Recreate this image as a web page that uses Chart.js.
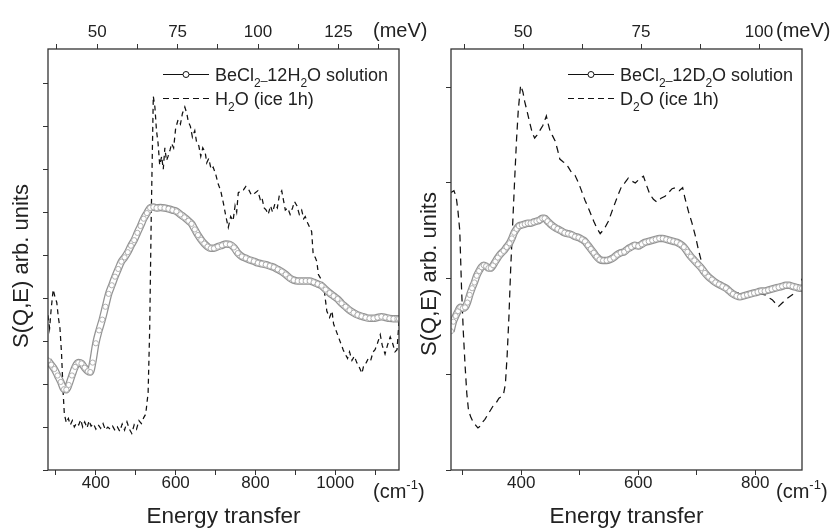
<!DOCTYPE html>
<html>
<head>
<meta charset="utf-8">
<title>BeCl2 solution vs ice 1h</title>
<script src="https://cdn.jsdelivr.net/npm/chart.js@4.4.1/dist/chart.umd.min.js"></script>
<style>
  body { margin: 0; background: #fff; }
  #wrap { position: relative; width: 837px; height: 528px; overflow: hidden; }
  canvas { position: absolute; top: 0; }
</style>
</head>
<body>
<div id="wrap">
  <canvas id="left" width="440" height="528" style="left:0"></canvas>
  <canvas id="right" width="417" height="528" style="left:420px"></canvas>
</div>
<script>
// energy transfer in cm-1, intensity in arbitrary units
const leftSolX = [280,288,296,304,312,320,326,332,340,348,356,364,372,380,386,392,400,408,416,424,432,440,448,456,464,472,480,488,496,504,512,520,528,536,544,552,562,572,582,592,602,612,622,632,640,648,656,664,672,680,688,696,706,716,726,736,746,756,766,776,786,796,806,816,826,836,846,856,866,876,886,896,906,916,926,936,946,956,966,976,986,996,1006,1016,1026,1036,1046,1056,1066,1076,1086,1096,1106,1116,1126,1136,1146,1156,1160];
const leftSolY = [2.55,2.45,2.35,2.2,2.05,1.88,1.87,1.98,2.2,2.4,2.5,2.48,2.38,2.3,2.28,2.5,2.95,3.25,3.5,3.8,4.1,4.3,4.5,4.68,4.85,4.95,5.07,5.22,5.35,5.52,5.68,5.85,5.98,6.1,6.12,6.1,6.11,6.1,6.08,6.05,6.02,5.95,5.88,5.8,5.73,5.6,5.47,5.36,5.27,5.2,5.16,5.16,5.2,5.23,5.26,5.25,5.18,5.05,4.97,4.93,4.89,4.86,4.82,4.8,4.78,4.75,4.72,4.67,4.62,4.55,4.47,4.42,4.4,4.4,4.4,4.4,4.37,4.33,4.29,4.2,4.12,4.05,3.98,3.88,3.8,3.72,3.66,3.61,3.58,3.55,3.53,3.53,3.55,3.57,3.55,3.53,3.52,3.52,3.52];

const leftIceX = [280,284,288,293,297,302,306,310,314,318,321,326,331,336,341,346,352,357,362,367,372,378,383,388,394,400,406,412,418,424,430,436,442,448,454,460,466,472,478,484,490,496,502,508,514,520,525,531,535,539,544,548,552,556,560,565,569,573,577,581,586,590,595,600,606,612,617,623,628,632,637,642,648,653,658,663,668,674,678,683,689,694,700,707,713,720,726,732,738,744,749,753,757,763,770,776,782,790,799,806,812,816,822,827,832,838,843,849,855,860,866,870,875,881,887,893,898,904,910,916,921,925,931,936,941,945,950,954,958,964,971,975,979,986,992,996,1002,1008,1014,1020,1025,1031,1036,1042,1048,1054,1060,1067,1072,1078,1083,1089,1095,1100,1106,1113,1118,1125,1131,1138,1144,1150,1155,1160];
const leftIceY = [3.6,3.3,3.75,4.2,4.05,3.9,3.55,3.3,2.7,1.8,1.3,1.1,1.2,1.05,1.15,1.0,1.1,1.05,1.17,1.0,1.12,0.98,1.15,1.02,1.08,0.95,1.05,0.97,1.08,0.93,1.0,0.95,1.02,0.92,1.0,0.9,1.07,0.93,1.12,0.95,0.85,1.05,0.95,1.15,1.08,1.22,1.3,1.8,3.3,6.0,8.7,8.45,7.9,7.6,7.1,7.3,7.0,7.5,7.2,7.3,7.45,7.6,7.5,7.95,8.15,8.05,8.3,8.45,8.3,8.1,8.0,7.75,7.9,7.6,7.55,7.3,7.5,7.4,7.15,7.25,7.0,7.05,6.9,6.65,6.5,6.2,5.9,5.65,5.9,5.8,6.15,6.0,6.45,6.5,6.52,6.6,6.55,6.4,6.45,6.5,6.3,6.35,6.1,6.05,5.95,6.15,6.0,6.2,6.1,6.4,6.5,6.3,6.05,6.1,5.95,6.1,6.25,6.15,5.95,6.05,5.85,5.9,5.75,5.65,5.55,5.0,4.95,4.85,4.55,4.45,4.3,4.0,3.7,3.55,3.7,3.4,3.25,3.1,2.95,2.8,2.7,2.6,2.75,2.55,2.65,2.5,2.4,2.25,2.45,2.5,2.6,2.55,2.75,2.8,2.95,3.15,2.9,2.7,2.9,3.1,2.95,2.75,2.8,3.45];

const rightSolX = [280,284,288,292,296,300,304,308,312,316,320,324,328,332,336,340,344,348,352,356,360,365,370,375,380,384,388,392,396,401,406,411,416,421,426,431,436,440,445,450,456,462,468,474,480,486,492,498,504,509,514,519,524,529,534,540,546,552,558,564,570,576,582,588,594,600,606,612,618,624,630,636,642,648,654,660,666,672,678,684,690,696,702,708,714,720,726,732,738,744,750,756,762,768,774,780,786,792,798,804,810,816,822,828,834,840,846,852,858,864,870,876,880];
const rightSolY = [1.45,1.55,1.61,1.66,1.7,1.69,1.7,1.75,1.83,1.9,1.96,2.03,2.08,2.12,2.14,2.13,2.11,2.11,2.14,2.18,2.22,2.26,2.29,2.33,2.37,2.42,2.48,2.52,2.55,2.56,2.57,2.58,2.58,2.59,2.6,2.61,2.63,2.63,2.6,2.57,2.54,2.52,2.5,2.48,2.47,2.46,2.44,2.43,2.41,2.39,2.35,2.31,2.27,2.23,2.2,2.19,2.19,2.2,2.22,2.25,2.27,2.28,2.31,2.33,2.35,2.34,2.36,2.38,2.39,2.4,2.41,2.42,2.42,2.41,2.4,2.39,2.38,2.36,2.33,2.28,2.23,2.19,2.15,2.11,2.06,2.02,1.99,1.96,1.94,1.92,1.9,1.87,1.84,1.82,1.81,1.82,1.83,1.84,1.85,1.86,1.87,1.87,1.88,1.89,1.9,1.91,1.92,1.93,1.93,1.92,1.91,1.9,1.9];

const rightIceX = [280,285,289,292,295,298,301,304,307,310,314,318,322,326,330,334,338,343,348,352,357,362,367,370,373,376,379,382,386,389,392,395,399,403,406,410,415,419,423,427,432,437,443,446,449,453,458,462,466,472,477,481,487,492,498,503,509,516,524,530,535,542,549,555,561,566,572,577,583,589,595,602,609,614,620,626,632,639,646,652,658,663,670,676,680,686,692,698,703,708,712,718,723,730,737,745,754,762,771,778,786,794,803,810,817,823,829,835,840,847,854,861,868,873,877,880];
const rightIceY = [2.9,2.92,2.85,2.7,2.5,1.9,1.45,1.1,0.8,0.62,0.55,0.5,0.47,0.44,0.46,0.5,0.53,0.58,0.63,0.67,0.7,0.75,0.77,0.8,0.9,1.2,1.6,2.1,2.65,3.06,3.45,3.76,4.02,3.95,3.85,3.75,3.62,3.52,3.47,3.5,3.55,3.6,3.7,3.62,3.55,3.5,3.44,3.35,3.25,3.22,3.2,3.16,3.1,3.08,3.0,2.92,2.82,2.72,2.6,2.52,2.47,2.52,2.6,2.7,2.8,2.88,2.97,3.0,3.05,3.02,3.0,3.04,3.07,2.98,2.88,2.83,2.8,2.84,2.86,2.9,2.94,2.95,2.92,2.95,2.84,2.7,2.58,2.44,2.3,2.18,2.09,2.03,1.99,1.95,1.92,1.89,1.88,1.87,1.85,1.82,1.83,1.86,1.86,1.84,1.83,1.8,1.78,1.74,1.71,1.75,1.79,1.82,1.85,1.9,1.92,2.0];

// axis ticks
const leftCmTicks = [300,400,500,600,700,800,900,1000,1100];
const leftCmLabels = [400,600,800,1000];
const leftMevTicks = [37.5,50,62.5,75,87.5,100,112.5,125,137.5];
const leftMevLabels = [50,75,100,125];
const leftYTicks = [0,1,2,3,4,5,6,7,8,9];

const rightCmTicks = [300,400,500,600,700,800];
const rightCmLabels = [400,600,800];
const rightMevTicks = [37.5,50,62.5,75,87.5,100];
const rightMevLabels = [50,75,100];
const rightYTicks = [0,1,2,3,4];

const CM_PER_MEV = 8.0655;
const FONT = "'Liberation Sans', Arial, sans-serif";
const INK = '#222';

const pair = (xs, ys) => xs.map((x, i) => ({x: x, y: ys[i]}));

// subscript / superscript aware text drawing: parts = [[text, shift]]
function drawParts(ctx, parts, x, y, size) {
  parts.forEach(p => {
    const shift = p[1];
    const fs = shift ? Math.round(size * 0.65) : size;
    ctx.font = fs + 'px ' + FONT;
    ctx.fillText(p[0], x, y + shift);
    x += ctx.measureText(p[0]).width;
  });
}

const decorPlugin = {
  id: 'decor',
  afterDraw(chart, args, o) {
    const {ctx, chartArea: a} = chart;
    ctx.save();
    // frame
    ctx.strokeStyle = '#333';
    ctx.lineWidth = 1.3;
    ctx.strokeRect(a.left, a.top, a.right - a.left, a.bottom - a.top);
    ctx.fillStyle = INK;
    ctx.textBaseline = 'middle';
    // unit labels
    drawParts(ctx, [['(meV)', 0]], a.right - 26, 31, 20);
    drawParts(ctx, [['(cm', 0], ['-1', -7], [')', 0]], a.right - 26, 492, 20);
    // y title
    ctx.save();
    ctx.translate(o.yTitleX, o.yTitleY);
    ctx.rotate(-Math.PI / 2);
    ctx.textAlign = 'center';
    ctx.font = '22px ' + FONT;
    ctx.fillText('S(Q,E) arb. units', 0, 0);
    ctx.restore();
    // legend
    ctx.textBaseline = 'alphabetic';
    const x0 = Math.round(a.left + o.legX), x1 = x0 + 46;
    const y1 = Math.round(a.top + 25) + 0.5, y2 = Math.round(a.top + 49) + 0.5;
    ctx.strokeStyle = '#111';
    ctx.lineWidth = 1;
    ctx.beginPath(); ctx.moveTo(x0, y1); ctx.lineTo(x1, y1); ctx.stroke();
    ctx.beginPath(); ctx.arc((x0 + x1) / 2, y1, 3, 0, Math.PI * 2);
    ctx.fillStyle = '#fff'; ctx.fill(); ctx.stroke();
    ctx.setLineDash([6, 4]);
    ctx.beginPath(); ctx.moveTo(x0, y2); ctx.lineTo(x1, y2); ctx.stroke();
    ctx.setLineDash([]);
    ctx.fillStyle = INK;
    const w = o.water;
    drawParts(ctx, [['BeCl', 0], ['2', 6], ['_', -2], ['12' + w, 0], ['2', 6], ['O solution', 0]], x1 + 6, y1 + 6, 18);
    drawParts(ctx, [[w, 0], ['2', 6], ['O (ice 1h)', 0]], x1 + 6, y2 + 6, 18);
    ctx.restore();
  }
};

function makePanel(id, p) {
  const tickFont = {family: FONT, size: 17, lineHeight: 1};
  const grid = {drawOnChartArea: false, tickLength: 5, color: '#333', lineWidth: 1};
  const setTicks = vals => s => { s.ticks = vals.map(v => ({value: v})); };
  const labelIf = vals => v => vals.includes(v) ? String(v) : '';
  return new Chart(document.getElementById(id), {
    type: 'line',
    data: {
      datasets: [
        {data: pair(p.iceX, p.iceY), borderColor: '#111', borderWidth: 1.25, order: 2,
         borderDash: p.dash, pointRadius: 0, tension: 0, xAxisID: 'x'},
        {data: pair(p.solX, p.solY), borderColor: '#939393', borderWidth: 7.5, order: 1,
         pointRadius: 0, cubicInterpolationMode: 'monotone', xAxisID: 'x'},
        {data: pair(p.solX, p.solY), borderColor: '#fff', borderWidth: 5, order: 0,
         pointRadius: 2.6, pointBorderWidth: 0.8, pointBorderColor: '#a0a0a0',
         pointBackgroundColor: '#fff', cubicInterpolationMode: 'monotone', xAxisID: 'x'}
      ]
    },
    options: {
      responsive: false,
      animation: false,
      devicePixelRatio: 1,
      events: [],
      layout: {padding: {left: 0, right: p.padRight, top: 0, bottom: 0}},
      plugins: {legend: {display: false}, tooltip: {enabled: false}, decor: p.decor},
      scales: {
        x: {
          type: 'linear', position: 'bottom', min: p.xMin, max: p.xMax,
          afterBuildTicks: setTicks(p.cmTicks),
          afterFit: s => { s.height = 58; },
          border: {display: false}, grid: grid,
          ticks: {autoSkip: false, maxRotation: 0, padding: 0, color: INK, font: tickFont,
                  callback: labelIf(p.cmLabels)},
          title: {display: true, text: 'Energy transfer', color: INK,
                  font: {family: FONT, size: 22.5, lineHeight: 1}, padding: {top: 0, bottom: 0}}
        },
        x2: {
          type: 'linear', position: 'top', min: p.xMin / CM_PER_MEV, max: p.xMax / CM_PER_MEV,
          afterBuildTicks: setTicks(p.mevTicks),
          afterFit: s => { s.height = 49; },
          border: {display: false}, grid: grid,
          ticks: {autoSkip: false, maxRotation: 0, padding: 3, color: INK, font: tickFont,
                  callback: labelIf(p.mevLabels)}
        },
        y: {
          type: 'linear', position: 'left', min: 0, max: p.yMax,
          afterBuildTicks: setTicks(p.yTicks),
          afterFit: s => { s.width = p.yWidth; },
          border: {display: false}, grid: grid,
          ticks: {autoSkip: false, callback: () => ''}
        }
      }
    },
    plugins: [decorPlugin]
  });
}

makePanel('left', {
  iceX: leftIceX, iceY: leftIceY, solX: leftSolX, solY: leftSolY, dash: [5, 4],
  xMin: 280, xMax: 1160, yMax: 9.8, yWidth: 48, padRight: 41,
  cmTicks: leftCmTicks, cmLabels: leftCmLabels, mevTicks: leftMevTicks, mevLabels: leftMevLabels,
  yTicks: leftYTicks,
  decor: {yTitleX: 22, yTitleY: 266, legX: 115, water: 'H'}
});

makePanel('right', {
  iceX: rightIceX, iceY: rightIceY, solX: rightSolX, solY: rightSolY, dash: [7, 5],
  xMin: 280, xMax: 880, yMax: 4.4, yWidth: 31, padRight: 35,
  cmTicks: rightCmTicks, cmLabels: rightCmLabels, mevTicks: rightMevTicks, mevLabels: rightMevLabels,
  yTicks: rightYTicks,
  decor: {yTitleX: 10, yTitleY: 274, legX: 117, water: 'D'}
});
</script>
</body>
</html>
